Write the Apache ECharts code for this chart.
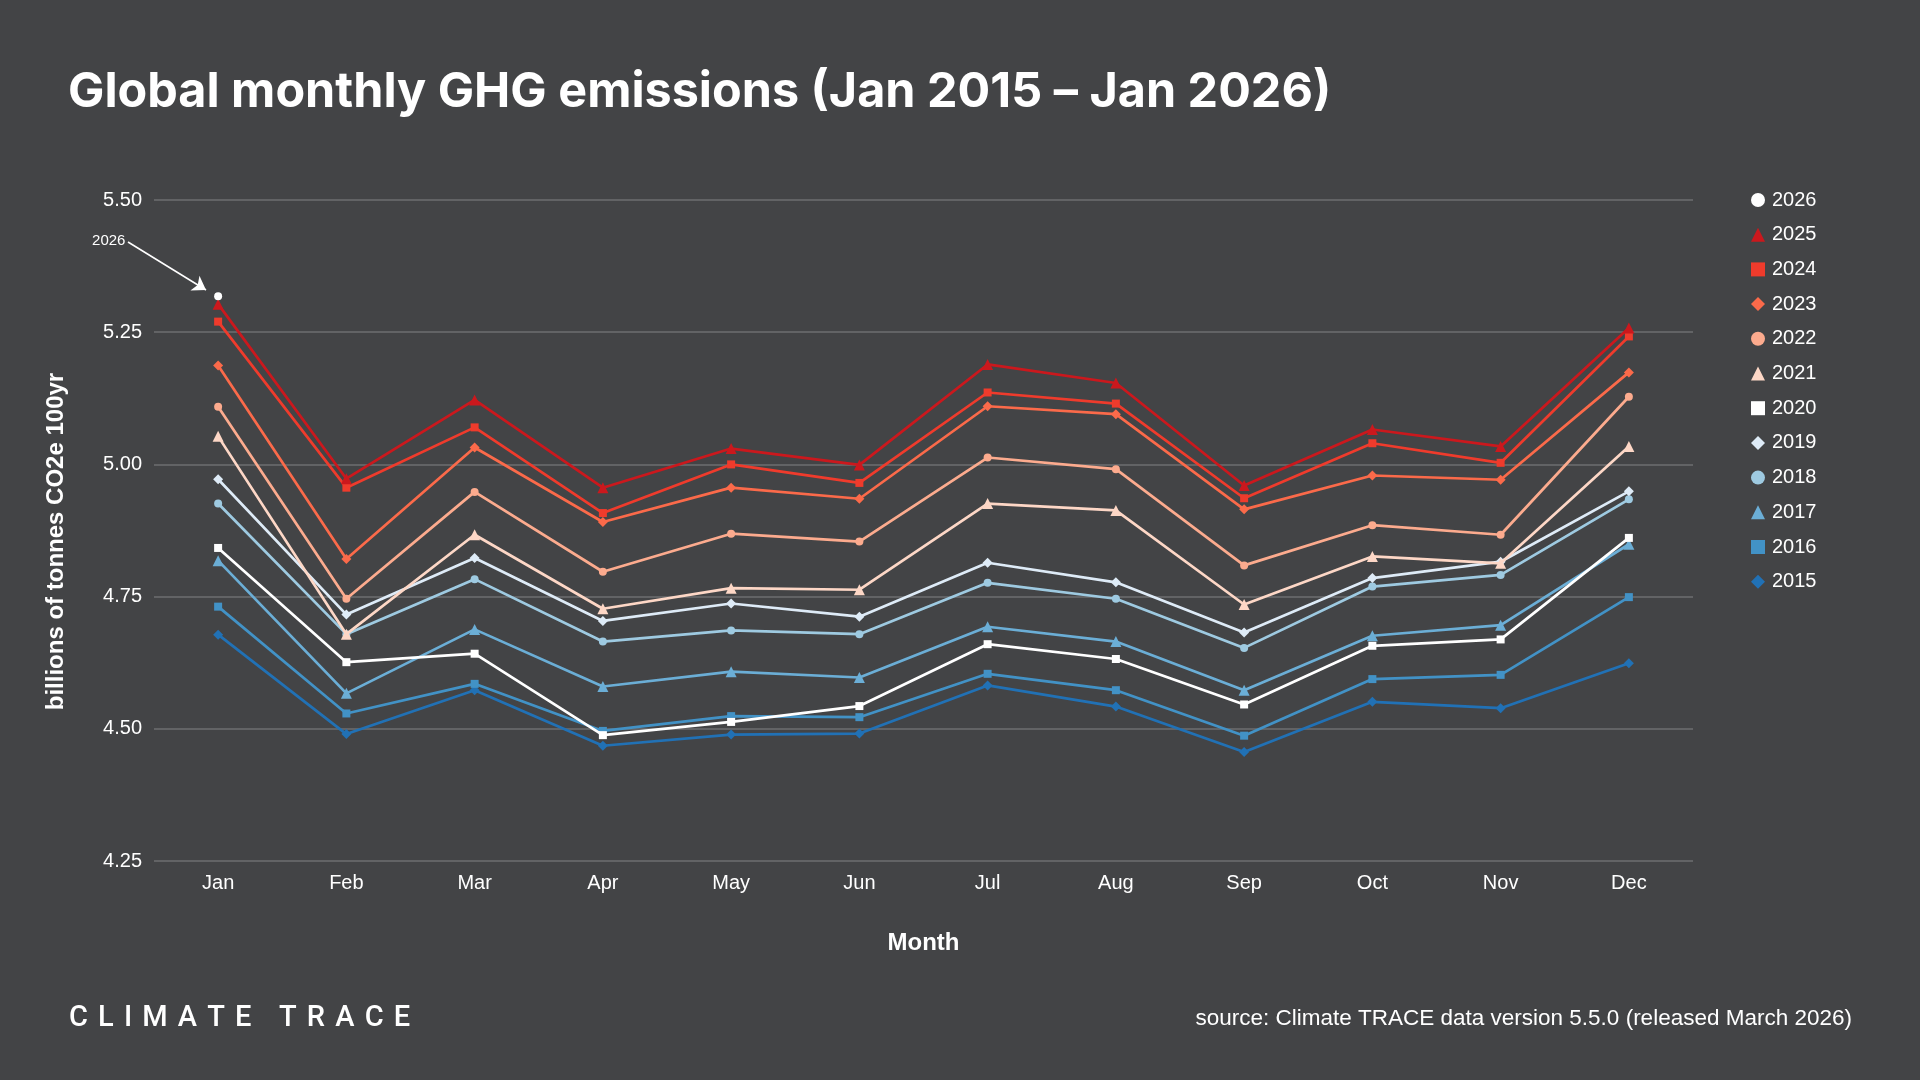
<!DOCTYPE html>
<html>
<head>
<meta charset="utf-8">
<script src="https://cdn.jsdelivr.net/npm/echarts@6/dist/echarts.min.js"></script>
<style>
html,body{margin:0;padding:0;background:#434446;}
#chart{width:1920px;height:1080px;}
</style>
</head>
<body>
<div id="chart"></div>
<script>
const months = ['Jan','Feb','Mar','Apr','May','Jun','Jul','Aug','Sep','Oct','Nov','Dec'];
const yTicks = [4.25, 4.50, 4.75, 5.00, 5.25, 5.50];

const y2015 = [4.678, 4.490, 4.573, 4.468, 4.489, 4.491, 4.582, 4.542, 4.456, 4.551, 4.539, 4.624];
const y2016 = [4.731, 4.529, 4.585, 4.496, 4.524, 4.522, 4.604, 4.573, 4.487, 4.594, 4.602, 4.749];
const y2017 = [4.818, 4.567, 4.688, 4.580, 4.608, 4.597, 4.693, 4.665, 4.573, 4.676, 4.696, 4.849];
const y2018 = [4.926, 4.679, 4.783, 4.665, 4.686, 4.679, 4.776, 4.746, 4.653, 4.769, 4.791, 4.934];
const y2019 = [4.972, 4.716, 4.823, 4.704, 4.737, 4.712, 4.814, 4.777, 4.682, 4.785, 4.816, 4.949];
const y2020 = [4.842, 4.626, 4.642, 4.488, 4.513, 4.543, 4.660, 4.632, 4.546, 4.657, 4.669, 4.861];
const y2021 = [5.053, 4.679, 4.867, 4.727, 4.766, 4.763, 4.926, 4.913, 4.735, 4.826, 4.813, 5.034];
const y2022 = [5.109, 4.746, 4.948, 4.797, 4.869, 4.854, 5.013, 4.991, 4.809, 4.885, 4.867, 5.128];
const y2023 = [5.187, 4.821, 5.032, 4.891, 4.956, 4.935, 5.110, 5.095, 4.915, 4.979, 4.971, 5.174];
const y2024 = [5.270, 4.956, 5.070, 4.908, 5.000, 4.965, 5.136, 5.115, 4.936, 5.040, 5.003, 5.242];
const y2025 = [5.303, 4.973, 5.122, 4.956, 5.030, 4.999, 5.189, 5.154, 4.960, 5.066, 5.034, 5.258];
const y2026 = [5.318];

const years = ['2015','2016','2017','2018','2019','2020','2021','2022','2023','2024','2025','2026'];
const yearData = [y2015,y2016,y2017,y2018,y2019,y2020,y2021,y2022,y2023,y2024,y2025,y2026];
const yearColors = ['#2171b5','#4292c6','#6baed6','#9ecae1','#deebf7','#ffffff','#fdd7c6','#fcab8e','#fb6a4a','#ef3b2c','#cb181d','#ffffff'];
const yearSymbols = ['diamond','rect','triangle','circle','diamond','rect','triangle','circle','diamond','rect','triangle','circle'];

const FONT = '"Liberation Sans", Arial, sans-serif';

const series = years.map((yr, i) => {
  const s = {
    name: yr,
    type: 'line',
    data: yearData[i],
    symbol: yearSymbols[i],
    symbolSize: yearSymbols[i] === 'triangle' ? 11 : (yearSymbols[i] === 'diamond' ? 10 : 8),
    showAllSymbol: true,
    lineStyle: { color: yearColors[i], width: 2.7 },
    itemStyle: { color: yearColors[i] },
    emphasis: { disabled: true },
    animation: false,
    z: 2 + i
  };
  if (yr === '2026') {
    s.markLine = {
      silent: true,
      animation: false,
      symbol: ['none', 'arrow'],
      symbolSize: 13,
      lineStyle: { color: '#ffffff', width: 1.6, type: 'solid' },
      label: { show: true, position: 'start', formatter: '2026', color: '#ffffff', fontSize: 15, fontFamily: FONT, distance: 3 },
      data: [[{ x: 128, y: 242 }, { x: 206, y: 290 }]]
    };
  }
  return s;
});

const legendOrder = years.slice().reverse();

const chart = echarts.init(document.getElementById('chart'), null, { renderer: 'canvas' });
chart.setOption({
  backgroundColor: '#434446',
  animation: false,
  title: [
    {
      text: 'Global monthly GHG emissions (Jan 2015 – Jan 2026)',
      left: 63, top: 63,
      textStyle: { color: '#ffffff', fontSize: 48.5, fontWeight: 700, fontFamily: 'Inter, "Liberation Sans", sans-serif' }
    },
    {
      text: 'C \u200AL \u200AI \u200AM \u200AA \u200AT \u200AE  \u200A \u200AT \u200AR \u200AA \u200AC \u200AE',
      left: 64, top: 999,
      textStyle: { color: '#ffffff', fontSize: 29, fontWeight: 500, fontFamily: 'Roboto, "DejaVu Sans", sans-serif' }
    },
    {
      text: 'source: Climate TRACE data version 5.5.0 (released March 2026)',
      right: 63, top: 1002,
      textStyle: { color: '#ffffff', fontSize: 22.5, fontWeight: 400, fontFamily: FONT }
    }
  ],
  legend: {
    orient: 'vertical',
    left: 1746, top: 185,
    itemWidth: 14, itemHeight: 14,
    itemGap: 14.7,
    data: legendOrder.map(yr => ({ name: yr, icon: yearSymbols[years.indexOf(yr)] })),
    textStyle: { color: '#ffffff', fontSize: 20, fontFamily: FONT, lineHeight: 20, padding: [0, 0, 0, 2] },
    selectedMode: false
  },
  grid: { left: 154, right: 227, top: 200, bottom: 219, containLabel: false },
  xAxis: {
    type: 'category',
    data: months,
    boundaryGap: true,
    name: 'Month',
    nameLocation: 'middle',
    nameGap: 70,
    nameTextStyle: { color: '#ffffff', fontSize: 24, fontWeight: 700, fontFamily: FONT },
    axisLine: { show: false },
    axisTick: { show: false },
    axisLabel: { color: '#ffffff', fontSize: 20, fontFamily: FONT, margin: 12 }
  },
  yAxis: {
    type: 'value',
    min: 4.25, max: 5.5, interval: 0.25,
    name: 'billions of tonnes CO2e 100yr',
    nameLocation: 'middle',
    nameGap: 86,
    nameRotate: 90,
    nameTextStyle: { color: '#ffffff', fontSize: 24, fontWeight: 700, fontFamily: FONT, padding: [0, 22, 0, 0] },
    axisLine: { show: false },
    axisTick: { show: false },
    axisLabel: {
      color: '#ffffff', fontSize: 20, fontFamily: FONT, margin: 12,
      formatter: v => { const t = yTicks.find(k => Math.abs(k - v) < 1e-6); return (t !== undefined ? t : v).toFixed(2); }
    },
    splitLine: { show: true, lineStyle: { color: '#6d6e70', width: 1.5 } }
  },
  series: series
});
</script>
</body>
</html>
